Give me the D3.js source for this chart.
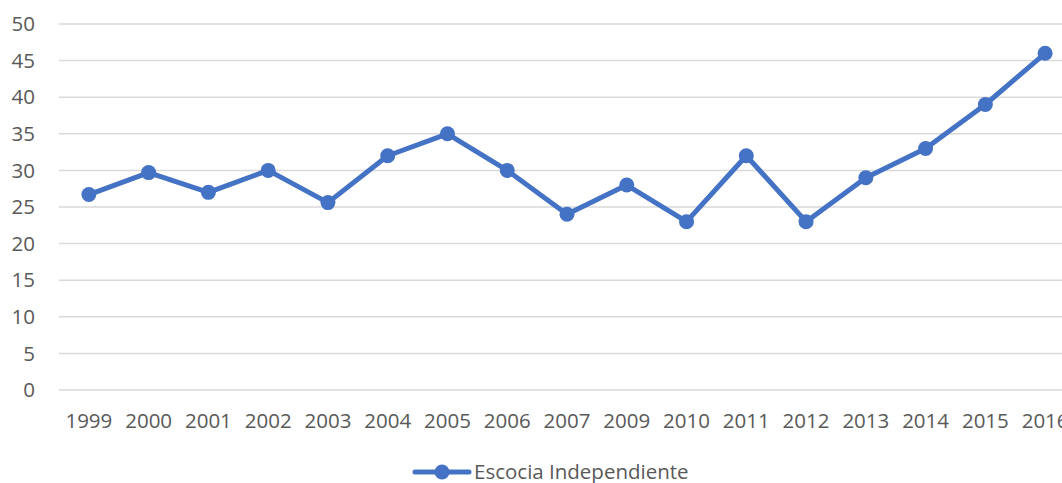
<!DOCTYPE html>
<html>
<head>
<meta charset="utf-8">
<script src="https://cdn.jsdelivr.net/npm/d3@7"></script>
<style>
  body { margin: 0; background: #fff; overflow: hidden; }
  text { font-family: "Open Sans", sans-serif; fill: #595959; font-size: 20.5px; }
</style>
</head>
<body>
<svg width="1062" height="483"></svg>
<script>
// data
var years = ["1999","2000","2001","2002","2003","2004","2005","2006","2007","2009","2010","2011","2012","2013","2014","2015","2016"];
var values = [26.7, 29.7, 27, 30, 25.6, 32, 35, 30, 24, 28, 23, 32, 23, 29, 33, 39, 46];
var yTicks = [0, 5, 10, 15, 20, 25, 30, 35, 40, 45, 50];
var seriesName = "Escocia Independiente";

var svg = d3.select("svg");
var plotLeft = 59, plotRight = 1075, plotTop = 24, plotBottom = 390;
var color = "#4472C4";

var x = d3.scalePoint().domain(years).range([plotLeft, plotRight]).padding(0.5);
var y = d3.scaleLinear().domain([0, 50]).range([plotBottom, plotTop]);

// gridlines
svg.append("g").selectAll("line")
  .data(yTicks)
  .enter().append("line")
    .attr("x1", plotLeft).attr("x2", 1062)
    .attr("y1", d => y(d)).attr("y2", d => y(d))
    .attr("stroke", "#d9d9d9").attr("stroke-width", 1.5);

// y labels
svg.append("g").selectAll("text")
  .data(yTicks)
  .enter().append("text")
    .attr("x", 35).attr("y", d => y(d))
    .attr("dy", "0.35em")
    .attr("text-anchor", "end")
    .text(d => d);

// x labels
svg.append("g").selectAll("text")
  .data(years)
  .enter().append("text")
    .attr("x", d => x(d)).attr("y", 421)
    .attr("dy", "0.35em")
    .attr("text-anchor", "middle")
    .text(d => d);

var line = d3.line()
  .x((d, i) => x(years[i]))
  .y(d => y(d));

svg.append("path")
  .datum(values)
  .attr("fill", "none")
  .attr("stroke", color)
  .attr("stroke-width", 5)
  .attr("stroke-linejoin", "round")
  .attr("d", line);

svg.append("g").selectAll("circle")
  .data(values)
  .enter().append("circle")
    .attr("cx", (d, i) => x(years[i]))
    .attr("cy", d => y(d))
    .attr("r", 7.5)
    .attr("fill", color);

// legend
var lg = svg.append("g");
lg.append("line")
  .attr("x1", 415).attr("x2", 469).attr("y1", 472).attr("y2", 472)
  .attr("stroke", color).attr("stroke-width", 5).attr("stroke-linecap", "round");
lg.append("circle").attr("cx", 442).attr("cy", 472).attr("r", 7.5).attr("fill", color);
lg.append("text")
  .attr("x", 474).attr("y", 472).attr("dy", "0.35em")
  .text(seriesName);
</script>
</body>
</html>
